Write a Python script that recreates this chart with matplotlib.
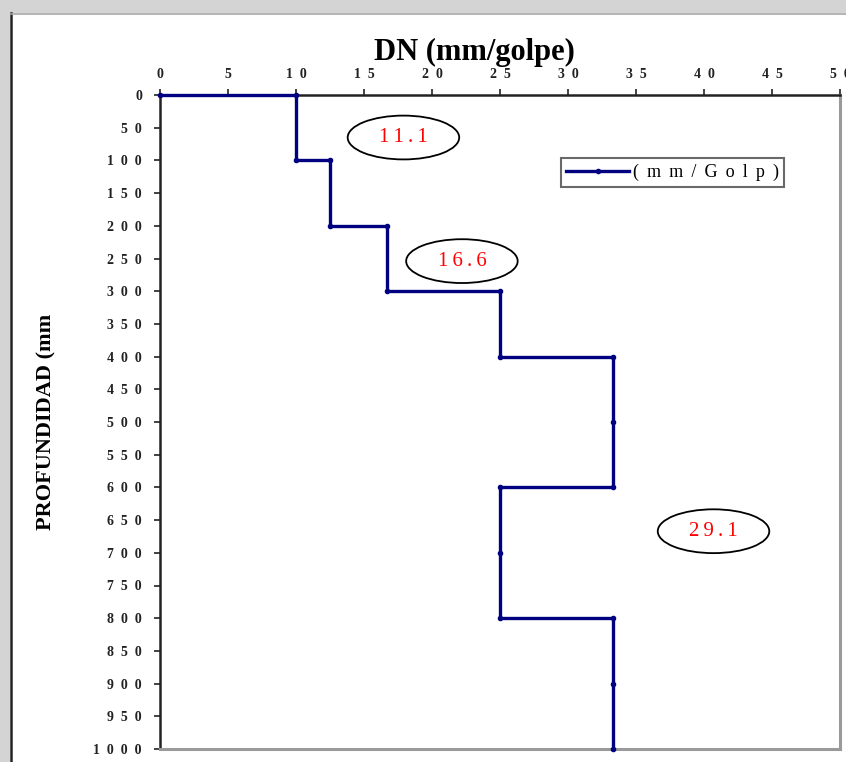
import matplotlib
matplotlib.use("Agg")
import matplotlib.pyplot as plt
from matplotlib.patches import Ellipse, Rectangle
from matplotlib.lines import Line2D

# DCP data: penetration index (mm/golpe) vs depth (mm)
dn = [0, 10, 10, 12.5, 12.5, 16.7, 16.7, 25, 25, 33.3, 33.3, 33.3,
      25, 25, 25, 33.3, 33.3, 33.3]
depth = [0, 0, 100, 100, 200, 200, 300, 300, 400, 400, 500, 600,
         600, 700, 800, 800, 900, 1000]

x_ticks = list(range(0, 55, 5))
y_ticks = list(range(0, 1050, 50))

# layer averages shown in ellipses: (label, x, depth)
notes = ["11.1", "16.6", "29.1"]
note_x = [17.9, 22.2, 40.7]
note_y = [65, 254, 667]

SERIF = "Liberation Serif"
NAVY = "#000080"
THIN = "\u2009"


def spaced(v):
    return "  ".join(str(v))


fig = plt.figure(figsize=(8.46, 7.62), dpi=100)

# screenshot frame (gray band top and left, dark edge line)
fig.patches.append(Rectangle((0, 1 - 13 / 762), 1, 13 / 762, transform=fig.transFigure,
                             facecolor="#d4d4d4", edgecolor="none", zorder=0))
fig.patches.append(Rectangle((0, 0), 10 / 846, 1, transform=fig.transFigure,
                             facecolor="#d4d4d4", edgecolor="none", zorder=0))
fig.add_artist(Line2D([11 / 846, 11 / 846], [0, 1 - 13 / 762], transform=fig.transFigure,
                      color="#222222", lw=1.8))
fig.add_artist(Line2D([11 / 846, 1], [1 - 14 / 762, 1 - 14 / 762], transform=fig.transFigure,
                      color="#a8a8a8", lw=1.2))

ax = fig.add_axes([160 / 846, 13 / 762, 680 / 846, 654 / 762])

ax.plot(dn, depth, color=NAVY, lw=2.4, marker="o", ms=3,
        label=(" " + THIN).join("(mm/Golp)"),
        solid_joinstyle="miter", clip_on=False, zorder=3)

ax.set_xlim(0, 50)
ax.set_ylim(1000, 0)
ax.xaxis.tick_top()
ax.set_xticks(x_ticks)
ax.set_xticklabels([spaced(v) for v in x_ticks], fontfamily=SERIF,
                   fontweight="bold", fontsize=10, color="#222222")
ax.set_yticks(y_ticks)
ax.set_yticklabels([spaced(v) for v in y_ticks], fontfamily=SERIF,
                   fontweight="bold", fontsize=10, color="#222222")
ax.tick_params(axis="x", length=4, width=1.2, pad=6, color="#222222")
ax.tick_params(axis="y", length=4, width=1.2, pad=9, color="#222222")

for s in ("left", "top"):
    ax.spines[s].set_color("#222222")
    ax.spines[s].set_linewidth(1.8)
for s in ("right", "bottom"):
    ax.spines[s].set_color("#9a9a9a")
    ax.spines[s].set_linewidth(2.2)

for t, xv, yv in zip(notes, note_x, note_y):
    ax.add_patch(Ellipse((xv, yv), 8.2, 67, facecolor="none",
                         edgecolor="black", lw=1.3, zorder=4))
    ax.text(xv, yv, THIN.join(t), color="red", fontfamily=SERIF, fontsize=15,
            ha="center", va="center", zorder=5)

leg = ax.legend(loc="upper right", bbox_to_anchor=(0.918, 0.903),
                prop={"family": SERIF, "size": 13}, frameon=True,
                fancybox=False, handlelength=3.5, borderpad=0.3,
                handletextpad=0.2, borderaxespad=0)
leg.get_frame().set_edgecolor("#444444")
leg.get_frame().set_linewidth(1.5)

fig.text(474 / 846, 1 - 52 / 762, "DN (mm/golpe)", fontfamily=SERIF,
         fontweight="bold", fontsize=22, ha="center", va="center")
fig.text(46 / 846, 1 - 422 / 762, "PROFUNDIDAD (mm", fontfamily=SERIF,
         fontweight="bold", fontsize=16, rotation=90, ha="center", va="center")

fig.savefig("out.png", dpi=100)
